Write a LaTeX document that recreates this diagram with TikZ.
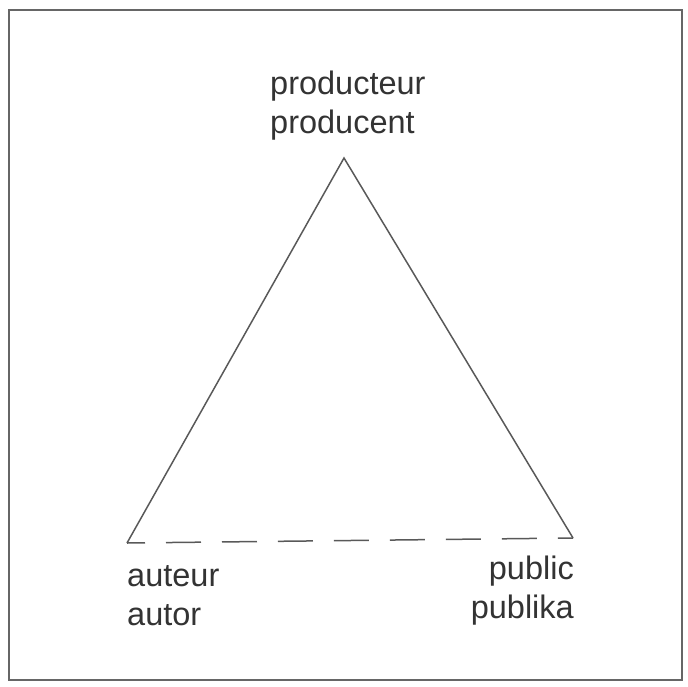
\documentclass[tikz,border=0pt]{standalone}
\usepackage{fontspec}
\setmainfont{Liberation Sans}
\begin{document}
\begin{tikzpicture}[x=1pt,y=-1pt,
  lbl/.style={inner sep=0pt, font=\fontsize{32.5}{39}\selectfont, text=black!80},
  edge/.style={draw=black!65, line width=1.5pt}]
\useasboundingbox (0,0) rectangle (688,686);
\draw[black!60, line width=1.5pt] (9,10) rectangle (682,680);
\coordinate (P) at (344,158);
\coordinate (A) at (127,543);
\coordinate (B) at (573,538);
\draw[edge, line join=miter] (A) -- (P) -- (B);
\draw[edge, dash pattern=on 35pt off 21pt, dash phase=17pt] (A) -- (B);
\node[lbl, anchor=base west, align=left] (prod) at (270,133) {producteur\\producent};
\node[lbl, anchor=base west, align=left] (aut) at (127,625) {auteur\\autor};
\node[lbl, anchor=base east, align=right] (pub) at (574,618) {public\\publika};
\end{tikzpicture}
\end{document}
